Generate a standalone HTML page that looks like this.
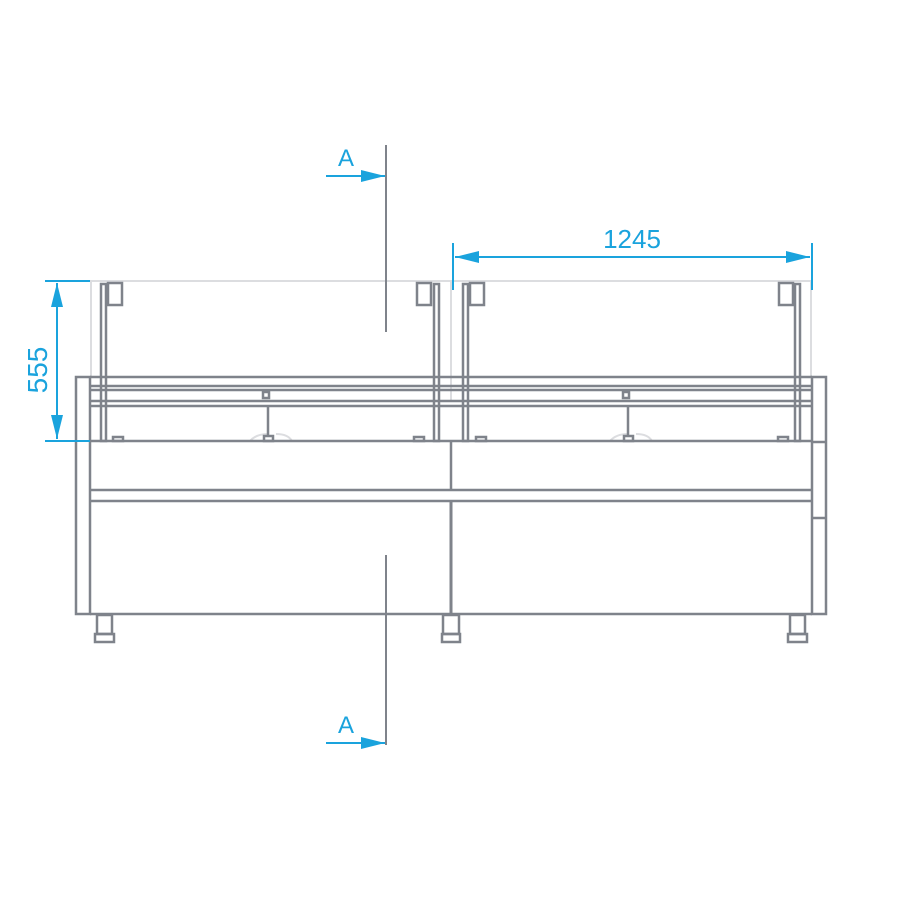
<!DOCTYPE html>
<html><head><style>body{margin:0;background:#fff}svg{display:block}</style></head><body>
<svg width="900" height="900" viewBox="0 0 900 900" xmlns="http://www.w3.org/2000/svg">
<defs>
<marker id="ar2" viewBox="0 0 20 10" refX="20" refY="5" markerWidth="24" markerHeight="12" orient="auto-start-reverse" markerUnits="userSpaceOnUse"><path d="M0,0 L20,5 L0,10z" fill="#1aa3dd"/></marker>
</defs>
<g stroke="#dcdde0" stroke-width="2" fill="none">
<line x1="90" y1="281" x2="812" y2="281"/>
<line x1="91" y1="281" x2="91" y2="377"/>
<line x1="451" y1="281" x2="451" y2="400"/>
<line x1="811" y1="281" x2="811" y2="377"/>
<path d="M250,441 Q256,434 268,434 M276,434 Q288,434 292,441"/>
<path d="M610,441 Q616,434 628,434 M636,434 Q648,434 652,441"/>
</g>
<g stroke="#7f838b" stroke-width="2.5" fill="none">
<rect x="76" y="377" width="14" height="237"/>
<rect x="812" y="377" width="14" height="237"/>
<line x1="812" y1="442" x2="826" y2="442"/>
<line x1="812" y1="518" x2="826" y2="518"/>
<line x1="90" y1="377" x2="812" y2="377"/>
<line x1="90" y1="386" x2="812" y2="386"/>
<line x1="90" y1="390" x2="812" y2="390"/>
<line x1="90" y1="401" x2="812" y2="401"/>
<line x1="90" y1="406" x2="812" y2="406"/>
<line x1="90" y1="441" x2="812" y2="441"/>
<line x1="90" y1="490" x2="812" y2="490"/>
<line x1="90" y1="501" x2="812" y2="501"/>
<line x1="90" y1="614" x2="812" y2="614"/>
<line x1="451" y1="441" x2="451" y2="490"/>
<line x1="451" y1="501" x2="451" y2="614" stroke-width="3"/>
<rect x="101" y="284" width="5" height="157"/>
<rect x="434" y="284" width="5" height="157"/>
<rect x="463" y="284" width="5" height="157"/>
<rect x="795" y="284" width="5" height="157"/>
<rect x="108" y="283" width="14" height="22"/>
<rect x="417" y="283" width="14" height="22"/>
<rect x="470" y="283" width="14" height="22"/>
<rect x="779" y="283" width="14" height="22"/>
<line x1="268" y1="406" x2="268" y2="437"/>
<line x1="628" y1="406" x2="628" y2="437"/>
<rect x="264" y="436" width="9" height="5"/>
<rect x="624" y="436" width="9" height="5"/>
<rect x="263" y="392" width="6" height="6"/>
<rect x="623" y="392" width="6" height="6"/>
<rect x="113" y="437" width="10" height="4"/>
<rect x="414" y="437" width="10" height="4"/>
<rect x="476" y="437" width="10" height="4"/>
<rect x="778" y="437" width="10" height="4"/>
<rect x="97" y="615" width="15" height="19"/><rect x="95" y="634" width="19" height="8"/>
<rect x="443" y="615" width="16" height="19"/><rect x="442" y="634" width="18" height="8"/>
<rect x="790" y="615" width="15" height="19"/><rect x="788" y="634" width="19" height="8"/>
</g>
<g stroke="#1aa3dd" stroke-width="2" fill="none">
<line x1="45" y1="281" x2="90" y2="281"/>
<line x1="45" y1="441" x2="90" y2="441"/>
<line x1="57" y1="283" x2="57" y2="439" marker-start="url(#ar2)" marker-end="url(#ar2)"/>
<line x1="453" y1="243" x2="453" y2="290"/>
<line x1="812" y1="243" x2="812" y2="290"/>
<line x1="455" y1="257" x2="810" y2="257" marker-start="url(#ar2)" marker-end="url(#ar2)"/>
<line x1="326" y1="176" x2="385" y2="176" marker-end="url(#ar2)"/>
<line x1="326" y1="743" x2="385" y2="743" marker-end="url(#ar2)"/>
</g>
<g stroke="#7f838b" stroke-width="2">
<line x1="386" y1="145" x2="386" y2="332"/>
<line x1="386" y1="555" x2="386" y2="745"/>
</g>
<g fill="#1aa3dd" font-family="Liberation Sans, sans-serif" font-size="26">
<text x="632" y="248" text-anchor="middle">1245</text>
<text x="346" y="166" text-anchor="middle" font-size="24">A</text>
<text x="346" y="733" text-anchor="middle" font-size="24">A</text>
<text transform="translate(47,370) rotate(-90)" text-anchor="middle" font-size="28">555</text>
</g>
</svg>
</body></html>
